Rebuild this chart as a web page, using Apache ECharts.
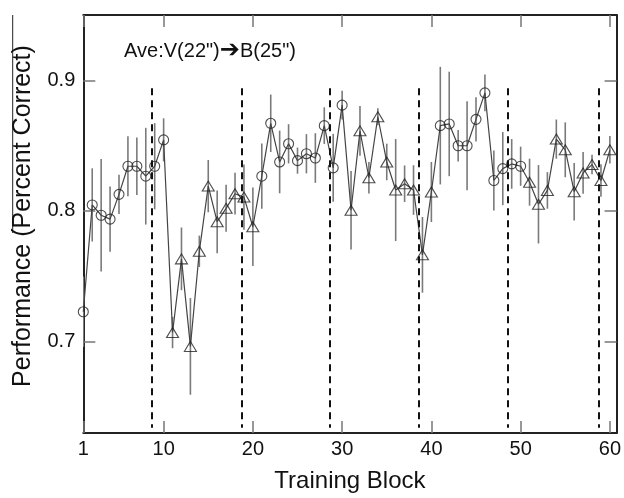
<!DOCTYPE html>
<html>
<head>
<meta charset="utf-8">
<script src="https://cdn.jsdelivr.net/npm/echarts@6/dist/echarts.min.js"></script>
<style>
html,body{margin:0;padding:0;background:#fff;}
#chart{width:624px;height:498px;}
</style>
</head>
<body>
<div id="chart"></div>
<script>
// ---- data ----
const blocks = [1,2,3,4,5,6,7,8,9,10,11,12,13,14,15,16,17,18,19,20,
  21,22,23,24,25,26,27,28,29,30,31,32,33,34,35,36,37,38,39,40,
  41,42,43,44,45,46,47,48,49,50,51,52,53,54,55,56,57,58,59,60];
const performance = [0.7228,0.8046,0.7967,0.7937,0.8127,0.8342,0.8342,0.8266,0.8342,0.8544,
  0.7069,0.7633,0.6963,0.7691,0.8190,0.7917,0.8020,0.8132,0.8106,0.7879,
  0.8266,0.8671,0.8375,0.8514,0.8385,0.8438,0.8405,0.8653,0.8330,0.8810,
  0.8005,0.8613,0.8254,0.8721,0.8375,0.8160,0.8208,0.8160,0.7664,0.8145,
  0.8653,0.8666,0.8499,0.8499,0.8701,0.8904,0.8233,0.8324,0.8360,0.8342,
  0.8220,0.8051,0.8157,0.8550,0.8468,0.8147,0.8291,0.8355,0.8233,0.8468];
const errorHalf = [0.027,0.028,0.043,0.025,0.015,0.023,0.022,0.037,0.033,0.0165,
  0.012,0.024,0.037,0.012,0.020,0.024,0.018,0.016,0.025,0.030,
  0.025,0.022,0.024,0.015,0.010,0.015,0.019,0.014,0.026,0.011,
  0.030,0.019,0.012,0.0065,0.014,0.039,0.014,0.019,0.029,0.023,
  0.045,0.040,0.012,0.034,0.017,0.014,0.023,0.028,0.019,0.015,
  0.018,0.030,0.014,0.015,0.021,0.022,0.016,0.0075,0.0125,0.0105];
// condition of each run of ten blocks
const segmentCondition = ['V','B','V','B','V','B'];
const boundaries = [8.7, 18.7, 28.6, 38.6, 48.6, 58.7];
const boundaryTop = 0.894, boundaryBottom = 0.634;
const xTicks = [1,10,20,30,40,50,60];
const yTicks = [0.7,0.8,0.9];
const annotation = ['Ave:V(22")', '➔', 'B(25")'];

// ---- chart ----
const FONT = '"Liberation Sans", Arial, sans-serif';
const circlePts = [], trianglePts = [];
blocks.forEach((b, i) => {
  const cond = segmentCondition[Math.floor(i / 10)];
  (cond === 'V' ? circlePts : trianglePts).push([b, performance[i]]);
});
const errData = blocks.map((b, i) => [b, performance[i] - errorHalf[i], performance[i] + errorHalf[i]]);

function axisX(pos, show) {
  return {
    type: 'value', min: 1, max: 60.75, position: pos,
    axisLine: {show: true, onZero: false, lineStyle: {color: '#222', width: 2}},
    axisTick: {show: true, inside: true, length: 12, customValues: xTicks, lineStyle: {color: '#777', width: 1.5}},
    axisLabel: {show: show, customValues: xTicks, fontSize: 20, color: '#111', fontFamily: FONT, margin: 6},
    splitLine: {show: false},
    name: show ? 'Training Block' : '', nameLocation: 'middle', nameGap: 36,
    nameTextStyle: {fontSize: 24, color: '#111', fontFamily: FONT}
  };
}
function axisY(pos, show) {
  return {
    type: 'value', min: 0.63, max: 0.95, position: pos,
    axisLine: {show: true, onZero: false, lineStyle: {color: '#222', width: 2}},
    axisTick: {show: true, inside: true, length: 12, customValues: yTicks, lineStyle: {color: '#777', width: 1.5}},
    axisLabel: {show: show, customValues: yTicks, fontSize: 20, color: '#111', fontFamily: FONT, margin: 8,
      formatter: v => v.toFixed(1)},
    splitLine: {show: false},
    name: show ? 'Performance (Percent Correct)' : '', nameLocation: 'middle', nameGap: 48,
    nameTextStyle: {fontSize: 25, color: '#111', fontFamily: FONT, padding: [0, 0, 0, 16]}
  };
}

const chart = echarts.init(document.getElementById('chart'), null, {renderer: 'canvas'});
chart.setOption({
  animation: false,
  backgroundColor: '#fff',
  grid: {left: 83.3, right: 6.3, top: 15, bottom: 62.3, containLabel: false},
  xAxis: [axisX('bottom', true), axisX('top', false)],
  yAxis: [axisY('left', true), axisY('right', false)],
  graphic: [
    {type: 'text', x: 210, y: 51, silent: true,
      style: {
        text: '{a|' + annotation[0] + '}{b|' + annotation[1] + '}{a|' + annotation[2] + '}',
        align: 'center', verticalAlign: 'middle',
        rich: {
          a: {fontSize: 20, fontFamily: FONT, fill: '#111'},
          b: {fontSize: 24, fontFamily: '"DejaVu Sans", sans-serif', fill: '#111'}
        }
      }},
    {type: 'line', silent: true, shape: {x1: 12.7, y1: 15, x2: 12.7, y2: 233},
      style: {stroke: '#222', lineWidth: 1}}
  ],
  series: [
    {
      type: 'custom', name: 'err', clip: true,
      renderItem: function (params, api) {
        const x = api.value(0);
        const lo = api.coord([x, api.value(1)]);
        const hi = api.coord([x, api.value(2)]);
        return {type: 'line', shape: {x1: lo[0], y1: lo[1], x2: hi[0], y2: hi[1]},
          style: {stroke: '#7a7a7a', lineWidth: 1.6}};
      },
      encode: {x: 0, y: [1, 2]},
      data: errData, z: 1
    },
    {
      type: 'line', name: 'perf', showSymbol: false, symbol: 'none',
      data: blocks.map((b, i) => [b, performance[i]]),
      lineStyle: {color: '#444', width: 1.2}, z: 2,
      markLine: {
        silent: true, symbol: 'none', label: {show: false},
        lineStyle: {color: '#111', type: [7, 5], width: 2},
        data: boundaries.map(b => [{coord: [b, boundaryTop]}, {coord: [b, boundaryBottom]}])
      }
    },
    {
      type: 'scatter', name: 'V', symbol: 'circle', symbolSize: 10, data: circlePts, z: 3,
      itemStyle: {color: 'rgba(0,0,0,0)', borderColor: '#222', borderWidth: 1.1}
    },
    {
      type: 'scatter', name: 'B', symbol: 'triangle', symbolSize: [12, 10], data: trianglePts, z: 3,
      itemStyle: {color: 'rgba(0,0,0,0)', borderColor: '#222', borderWidth: 1.1}
    }
  ]
});
</script>
</body>
</html>
